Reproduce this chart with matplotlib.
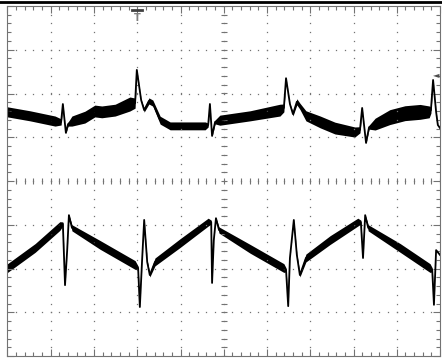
import matplotlib.pyplot as plt
from matplotlib.lines import Line2D
import numpy as np

# scope screen: 10 x 8 divisions
# channel 1 (upper trace): time [div], level [div], trace thickness [div]
ch1_t = [0, 0.52, 1.10, 1.24, 1.28, 1.35, 1.40, 1.49, 1.79, 2.02,
         2.18, 2.49, 2.83, 2.95, 2.99, 3.09, 3.16, 3.27, 3.36, 3.53,
         3.76, 4.22, 4.57, 4.64, 4.68, 4.73, 4.80, 4.91, 5.61, 6.30,
         6.39, 6.44, 6.53, 6.60, 6.69, 6.76, 6.90, 7.23, 7.57, 8.03,
         8.15, 8.20, 8.29, 8.36, 8.50, 8.84, 9.19, 9.54, 9.75, 9.79,
         9.84, 9.91, 9.95, 10.0]
ch1_v = [1.58, 1.49, 1.37, 1.35, 1.76, 1.10, 1.30, 1.37, 1.46, 1.60,
         1.58, 1.62, 1.76, 1.78, 2.54, 1.85, 1.62, 1.83, 1.78, 1.39,
         1.26, 1.26, 1.26, 1.28, 1.76, 1.03, 1.35, 1.39, 1.49, 1.62,
         1.67, 2.35, 1.76, 1.53, 1.81, 1.71, 1.49, 1.35, 1.21, 1.12,
         1.17, 1.67, 0.87, 1.23, 1.30, 1.46, 1.55, 1.58, 1.58, 1.62,
         2.31, 1.58, 1.28, 1.21]
ch1_w = [0.23, 0.23, 0.23, 0.14, 0.02, 0.02, 0.09, 0.23, 0.27, 0.27,
         0.27, 0.27, 0.32, 0.23, 0.02, 0.02, 0.09, 0.14, 0.14, 0.18,
         0.18, 0.18, 0.18, 0.09, 0.02, 0.02, 0.09, 0.23, 0.23, 0.27,
         0.18, 0.02, 0.02, 0.09, 0.14, 0.14, 0.23, 0.27, 0.27, 0.23,
         0.14, 0.02, 0.02, 0.09, 0.27, 0.34, 0.34, 0.34, 0.27, 0.14,
         0.02, 0.02, 0.02, 0.02]

# channel 2 (lower trace)
ch2_t = [0, 0.64, 1.21, 1.28, 1.33, 1.38, 1.42, 1.49, 2.14, 2.95,
         3.02, 3.06, 3.11, 3.16, 3.23, 3.29, 3.41, 3.99, 4.64, 4.71,
         4.73, 4.77, 4.82, 4.89, 5.61, 6.39, 6.44, 6.49, 6.53, 6.62,
         6.69, 6.76, 6.90, 7.46, 8.10, 8.17, 8.22, 8.27, 8.34, 9.08,
         9.77, 9.82, 9.86, 9.91, 10.0]
ch2_v = [-1.99, -1.53, -1.03, -0.98, -2.38, -1.58, -0.78, -1.07, -1.46, -1.92,
         -1.99, -2.88, -1.85, -0.89, -1.85, -2.15, -1.85, -1.42, -0.94, -0.94,
         -2.33, -1.35, -0.85, -1.12, -1.55, -1.99, -2.03, -2.86, -1.76, -0.89,
         -1.69, -2.15, -1.76, -1.35, -0.94, -0.94, -1.76, -0.78, -1.07, -1.53,
         -1.99, -2.03, -2.83, -1.58, -1.69]
ch2_w = [0.20, 0.20, 0.20, 0.09, 0.02, 0.02, 0.02, 0.14, 0.20, 0.20,
         0.09, 0.02, 0.02, 0.02, 0.07, 0.09, 0.18, 0.20, 0.18, 0.09,
         0.02, 0.02, 0.02, 0.14, 0.20, 0.20, 0.09, 0.02, 0.02, 0.02,
         0.07, 0.09, 0.18, 0.20, 0.18, 0.09, 0.02, 0.02, 0.14, 0.20,
         0.20, 0.09, 0.02, 0.02, 0.02]

fig = plt.figure(figsize=(4.42, 3.58), dpi=100)
ax = fig.add_axes([7.5 / 442, 2 / 358, 432.5 / 442, 350 / 358])
ax.set_xlim(0, 10)
ax.set_ylim(-4, 4)

# dotted graticule
grid_c = "0.45"
minor_x = np.arange(0, 10.01, 0.2)
minor_y = np.arange(-4, 4.01, 0.2)
for gx in range(1, 10):
    ax.plot([gx] * len(minor_y), minor_y, ls="none", marker="s", ms=0.9,
            color=grid_c, mew=0)
for gy in range(-3, 4):
    ax.plot(minor_x, [gy] * len(minor_x), ls="none", marker="s", ms=0.9,
            color=grid_c, mew=0)

# centre cross with minor ticks
ax.plot(minor_x, [0] * len(minor_x), ls="none", marker="|", ms=4,
        color=grid_c, mew=0.8)
ax.plot([5] * len(minor_y), minor_y, ls="none", marker="_", ms=4,
        color=grid_c, mew=0.8)

# border ticks
ax.set_xticks(range(0, 11))
ax.set_yticks(range(-4, 5))
ax.set_xticks(minor_x, minor=True)
ax.set_yticks(minor_y, minor=True)
ax.tick_params(which="both", direction="in", top=True, right=True,
               labelbottom=False, labelleft=False, color=grid_c)
ax.tick_params(which="major", length=5, width=0.8)
ax.tick_params(which="minor", length=3, width=0.8)
for s in ax.spines.values():
    s.set_color(grid_c)
    s.set_linewidth(0.8)

# traces
for t, v, w in [(ch1_t, ch1_v, ch1_w), (ch2_t, ch2_v, ch2_w)]:
    t = np.array(t)
    v = np.array(v)
    w = np.array(w)
    ax.fill_between(t, v - w / 2, v + w / 2, color="black", lw=0)
    ax.plot(t, v, color="black", lw=1.3)

# trigger and channel markers
ax.plot([2.88, 3.12], [3.92, 3.92], color="0.25", lw=2)
ax.text(3.0, 3.85, "T", color="0.5", fontsize=7, ha="center", va="top",
        fontweight="bold")
ax.text(9.98, 2.43, "\u25c4", color="0.3", fontsize=6, ha="right",
        va="center")

# black bar along the top of the screen
fig.add_artist(Line2D([0, 1], [1 - 2 / 358, 1 - 2 / 358], color="black",
                      lw=2, transform=fig.transFigure))

fig.savefig("out.png", dpi=100)
